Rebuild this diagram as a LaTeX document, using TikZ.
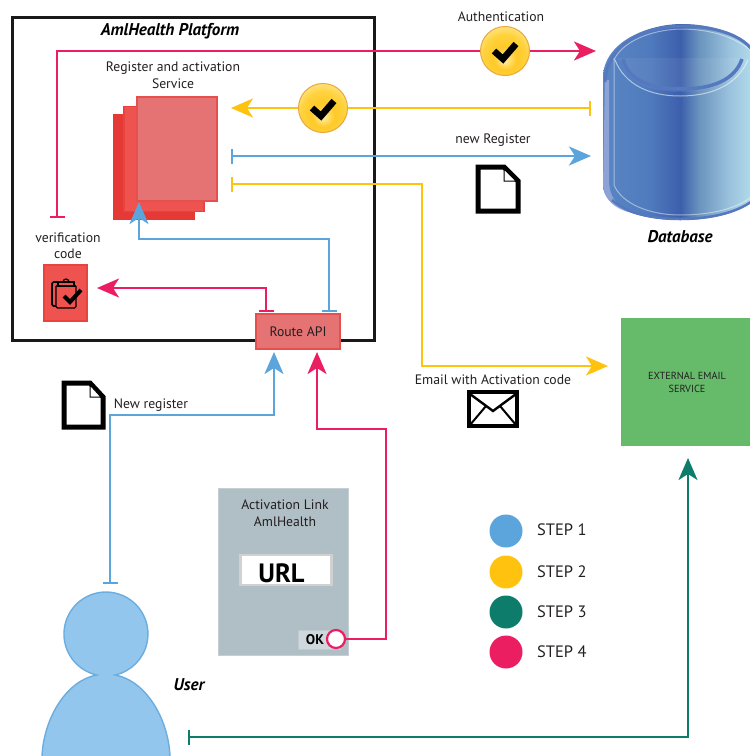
\documentclass[tikz,border=0pt]{standalone}
\usepackage{fontspec}
\setmainfont{PT Sans}
\usetikzlibrary{arrows.meta,calc}
\definecolor{cpink}{HTML}{EC1E62}
\definecolor{cyel}{HTML}{FFC20E}
\definecolor{cblue}{HTML}{5BA4DC}
\definecolor{cteal}{HTML}{0E7C6B}
\definecolor{ctext}{HTML}{231F20}
\definecolor{s1}{HTML}{E53935}
\definecolor{s2}{HTML}{EF5350}
\definecolor{s3}{HTML}{E57373}
\definecolor{dbA}{HTML}{5A86C4}
\definecolor{dbB}{HTML}{4F7ABD}
\definecolor{dbC}{HTML}{3D5FAC}
\definecolor{dbD}{HTML}{6A94BE}
\definecolor{dbE}{HTML}{9CC3DE}
\definecolor{dbF}{HTML}{B6E2EE}
\definecolor{dbrim}{HTML}{5578BE}
\definecolor{dbL}{HTML}{8CA3D6}
\definecolor{bA}{HTML}{FFEE9E}
\definecolor{bB}{HTML}{FFC928}
\definecolor{bC}{HTML}{FFD23C}
\definecolor{bD}{HTML}{FFEFB0}
\definecolor{brim}{HTML}{E8A73C}
\definecolor{panel}{HTML}{B0BEC5}
\definecolor{btn}{HTML}{CFD8DC}
\definecolor{ufill}{HTML}{93C6EC}
\definecolor{ext}{HTML}{66BB6A}
\pgfdeclarehorizontalshading{dbshade}{100bp}{
 color(0bp)=(dbA); color(25bp)=(dbA); color(40bp)=(dbB);
 color(50bp)=(dbC); color(56bp)=(dbD); color(66bp)=(dbE);
 color(75bp)=(dbF); color(100bp)=(dbF)}
\pgfdeclareradialshading{badgeshade}{\pgfpoint{0bp}{-10bp}}{
 color(0bp)=(bA); color(12bp)=(bB); color(22bp)=(bC); color(35bp)=(bD); color(50bp)=(bD)}
\tikzset{
 x=1pt,y=-1pt,
 lab/.style={text=ctext,inner sep=0pt,align=center,font=\fontsize{13.7}{16.5}\selectfont},
 blab/.style={text=black,inner sep=0pt,font=\fontsize{17}{18}\selectfont\bfseries\itshape},
 legendlab/.style={text=ctext,inner sep=0pt,anchor=west,font=\fontsize{16.5}{18}\selectfont},
 dot/.style={circle,minimum size=33pt,inner sep=0pt},
 conn/.style={line width=2.5pt,line join=miter},
 ar/.style={-{Stealth[length=22pt,width=19pt,inset=6pt]}},
 bararrow/.style={{Bar[width=15pt,line width=2pt]}-{Stealth[length=22pt,width=19pt,inset=6pt]}},
 baronly/.style={{Bar[width=15pt,line width=2pt]}-},
 sheet/.style={rectangle,inner sep=0pt,draw=#1!40!s1,line width=1.2pt,fill=#1},
 badge/.style={circle,minimum size=49pt,inner sep=0pt,draw=brim,line width=1pt,shading=badgeshade},
 chk/.style={draw=black,line width=6.5pt,line join=miter},
 icon/.style={draw=black,line width=5pt,line join=miter,fill=white}
}
\begin{document}
\begin{tikzpicture}
\useasboundingbox (0,0) rectangle (750,756);
% platform
\node[draw=black!90,line width=2.6pt,rectangle,inner sep=0pt,minimum width=362pt,minimum height=323pt] (platform) at (193.5,179) {};
\node[blab] (ptitle) at (170,31) {AmlHealth Platform};
\node[lab] (regsvc) at (173,75) {Register and activation\\Service};
% service stack
\node[sheet=s1,minimum width=80pt,minimum height=105pt] (stackA) at (154,167) {};
\node[sheet=s2,minimum width=80pt,minimum height=105pt] (stackB) at (164,159) {};
\node[sheet=s3,minimum width=80pt,minimum height=104pt] (stackC) at (177,149) {};
% verification
\node[lab] (vclab) at (68,245.5) {verification\\code};
\node[sheet=s2,minimum width=43pt,minimum height=56pt] (vcbox) at (65.5,293) {};
\draw[black,line width=1.6pt,rounded corners=1.5pt] (60,282) -- (52,282) -- (52,306) -- (56,306);
\draw[black,line width=1.4pt,fill=s2,rounded corners=1.5pt] (56,285) rectangle (76,308);
\draw[black,line width=1.4pt,fill=s2] (58,282) rectangle (74,286);
\draw[black,line width=1.2pt] (63,282) arc[start angle=180,end angle=360,radius=3];
\draw[chk,line width=4pt] (64,296) -- (70,302) -- (81,290);
% route
\node[sheet=s3,minimum width=84pt,minimum height=35pt,text=ctext,font=\fontsize{13.7}{15}\selectfont] (route) at (298,331.5) {Route API};
% database
\path[shading=dbshade] (603,75) .. controls (606,40) and (650,24) .. (682,24)
  .. controls (725,24) and (758,42) .. (758,75) -- (758,195) .. controls (745,212) and (715,220) .. (680,220)
  .. controls (640,220) and (603,208) .. (603,185) -- cycle;
\node[inner sep=0pt,minimum size=0pt] (db) at (680,120) {};
\fill[dbL] (605,80) -- (603,185) .. controls (604,200) and (615,208) .. (628,212) .. controls (615,204) and (609,195) .. (609,180) -- (609,80) -- cycle;
\draw[dbrim,line width=3pt] (605,82) .. controls (607,42) and (650,26) .. (682,26)
  .. controls (725,26) and (756,42) .. (756,62);
\draw[dbrim,line width=2.5pt] (612,200) .. controls (625,212) and (650,219) .. (680,219) .. controls (712,219) and (740,212) .. (756,198);
\draw[white,opacity=.45,line width=1pt] (614,58) -- (614,185) .. controls (622,204) and (650,215) .. (680,215) .. controls (710,215) and (735,209) .. (750,198);
\draw[white,opacity=.45,line width=1pt] (614,60) .. controls (622,42) and (650,30) .. (680,29) .. controls (712,29) and (736,38) .. (750,50);
\fill[white,opacity=.06] (618,58) -- (750,58) -- (745,62) .. controls (735,82) and (712,92) .. (680,92) .. controls (650,92) and (628,82) .. (622,62) -- cycle;
\draw[dbrim,line width=3.5pt] (623,59) .. controls (628,80) and (650,89) .. (682,89) .. controls (712,89) and (735,80) .. (742,59);
\draw[white,opacity=.55,line width=1pt] (615,60) .. controls (625,85) and (650,96) .. (680,96) .. controls (712,96) and (737,85) .. (748,60);
\node[blab] (dblab) at (680,237) {Database};
% badges
\node[badge] (auth) at (505,51) {};
\draw[chk] (494,51) -- (503,59) -- (516,44);
\node[badge] (chkB) at (323,108) {};
\draw[chk] (312,108) -- (321,116) -- (334,101);
\node[lab] (authlab) at (501,17) {Authentication};
% external
\node[rectangle,fill=ext,inner sep=0pt,minimum width=129pt,minimum height=128pt] (email) at (685.5,382) {};
\node[text=ctext,inner sep=0pt,align=center,font=\fontsize{10.3}{13}\selectfont] (emailtxt) at (687,382.5) {EXTERNAL EMAIL\\SERVICE};
% labels and icons
\node[lab] (newreg) at (493,140) {new Register};
\node[lab] (newregB) at (151,405) {New register};
\node[lab] (emlab) at (493,380) {Email with Activation code};
\draw[icon] (478,167) -- (504,167) -- (518,181) -- (518,211) -- (478,211) -- cycle;
\draw[black,line width=1pt,fill=white] (504,169) -- (504,181) -- (516,181) -- cycle;
\draw[icon] (64,383) -- (90,383) -- (103,397) -- (103,427) -- (64,427) -- cycle;
\draw[black,line width=1pt,fill=white] (90,385) -- (90,397) -- (101,397) -- cycle;
\fill[black] (467,390) rectangle (519,428);
\fill[white] (471,394) rectangle (515,424);
\draw[black,line width=2.4pt] (470,394) -- (493,411) -- (516,394);
\draw[black,line width=2pt] (470,425) -- (486,406) (516,425) -- (500,406);
% activation panel
\node[rectangle,fill=panel,draw=panel!75!white,line width=1pt,inner sep=0pt,minimum width=130pt,minimum height=167pt] (panelbox) at (283.5,572) {};
\node[lab] (panellab) at (285,513) {Activation Link\\AmlHealth};
\node[rectangle,fill=white,draw=black!18,line width=2.5pt,inner sep=0pt,minimum width=91pt,minimum height=30pt] (urlbox) at (286,570) {};
\node[inner sep=0pt,text=black,font=\fontsize{26.5}{26}\selectfont\bfseries] (urltxt) at (281.5,573.5) {URL};
\node[rectangle,fill=btn,draw=panel!80!white,line width=.8pt,inner sep=0pt,minimum width=42pt,minimum height=19pt] (okbtn) at (319,640) {};
\node[inner sep=0pt,text=black,font=\fontsize{14}{14}\selectfont\bfseries] (oktxt) at (315,640) {OK};
\node[circle,fill=white,draw=cpink,line width=2.2pt,inner sep=0pt,minimum size=18pt] (okdot) at (336,639) {};
% user
\draw[cblue!90!white,line width=1.4pt,fill=ufill] (42,756) .. controls (44,716) and (68,680) .. (96.8,675)
  arc[start angle=257.4,end angle=-77.4,radius=42,y radius=-42]
  .. controls (144,680) and (168,716) .. (170,756);
\node[inner sep=0pt,minimum size=0pt] (user) at (106,680) {};
\node[blab] (userlab) at (189,685) {User};
% legend
\node[dot,fill=cblue] (la) at (506,531) {};
\node[dot,fill=cyel] (lb) at (506,572) {};
\node[dot,fill=cteal] (lc) at (506,612) {};
\node[dot,fill=cpink] (ld) at (506,652) {};
\node[legendlab] (lta) at (537,530) {STEP 1};
\node[legendlab] (ltb) at (537,572) {STEP 2};
\node[legendlab] (ltc) at (537,612) {STEP 3};
\node[legendlab] (ltd) at (537,652) {STEP 4};
% connector ends
\coordinate (vcbar) at (57,218);
\coordinate (pinkc) at (57,51);
\coordinate (dbtipA) at (596,51);
\coordinate (dbbarB) at (591,108);
\coordinate (svctipB) at (231,108);
\coordinate (svcbarC) at (231,156);
\coordinate (dbtipC) at (591,156);
\coordinate (svcbarD) at (231,184);
\coordinate (yelc) at (422,184);
\coordinate (yeld) at (422,366);
\coordinate (emailtip) at (608,366);
\coordinate (rtbar) at (329,312);
\coordinate (bluea) at (329,239);
\coordinate (blueb) at (139,239);
\coordinate (stacktip) at (139,202);
\coordinate (rtbarB) at (266,312);
\coordinate (pinka) at (266,288);
\coordinate (vctip) at (97,288);
\coordinate (ubar) at (110,584);
\coordinate (bluec) at (110,415);
\coordinate (blued) at (274,415);
\coordinate (rttip) at (274,352);
\coordinate (pinkd) at (386,639);
\coordinate (pinke) at (386,429);
\coordinate (pinkf) at (317,429);
\coordinate (rttipB) at (317,352);
\coordinate (tealbar) at (188,737);
\coordinate (tealc) at (688,737);
\coordinate (emailtipB) at (688,458);
% connectors
\draw[conn,cpink,baronly] (vcbar) -- (pinkc) -- (auth);
\draw[conn,cpink,ar] (auth) -- (dbtipA);
\draw[conn,cyel,baronly] (dbbarB) -- (chkB);
\draw[conn,cyel,ar] (chkB) -- (svctipB);
\draw[conn,cblue,bararrow] (svcbarC) -- (dbtipC);
\draw[conn,cyel,bararrow] (svcbarD) -- (yelc) -- (yeld) -- (emailtip);
\draw[conn,cblue,bararrow] (rtbar) -- (bluea) -- (blueb) -- (stacktip);
\draw[conn,cpink,bararrow] (rtbarB) -- (pinka) -- (vctip);
\draw[conn,cblue,bararrow] (ubar) -- (bluec) -- (blued) -- (rttip);
\draw[conn,cpink,ar] (okdot) -- (pinkd) -- (pinke) -- (pinkf) -- (rttipB);
\draw[conn,cteal,bararrow] (tealbar) -- (tealc) -- (emailtipB);
\end{tikzpicture}
\end{document}
